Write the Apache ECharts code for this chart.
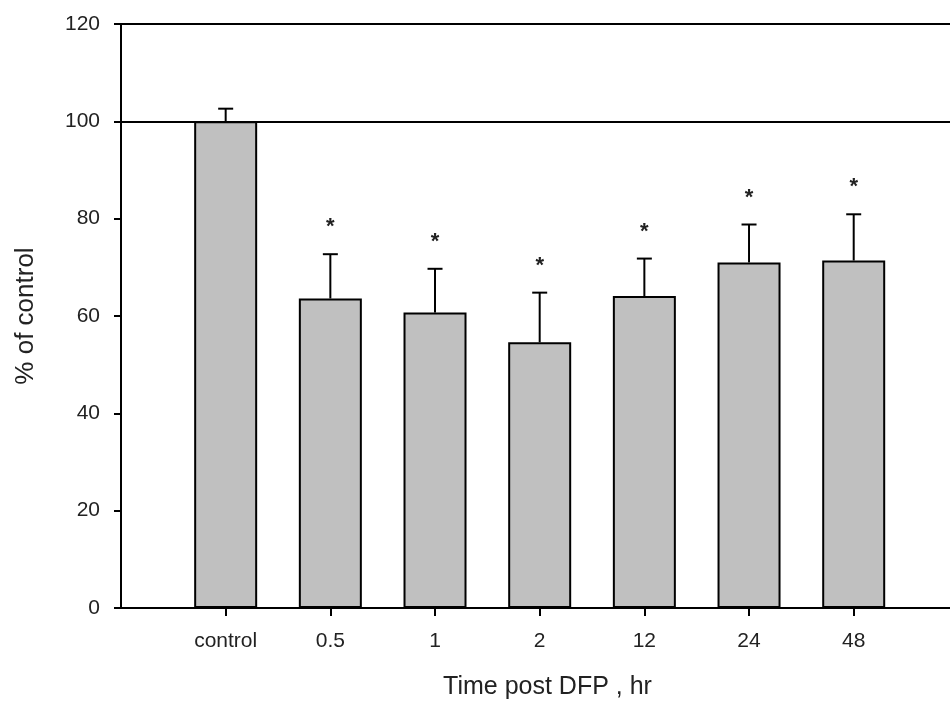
<!DOCTYPE html>
<html>
<head>
<meta charset="utf-8">
<script src="https://cdn.jsdelivr.net/npm/echarts@6/dist/echarts.min.js"></script>
<style>
  html, body { margin: 0; padding: 0; background: #fff; }
  #chart { width: 950px; height: 706px; }
</style>
</head>
<body>
<div id="chart"></div>
<script>
// Time points after DFP exposure (hours), with the untreated group first
const categories = ['control', '0.5', '1', '2', '12', '24', '48'];
// Mean response, % of control
const means = [100, 63.6, 60.7, 54.6, 64.1, 71.0, 71.4];
// Standard error of the mean (upper error bar only)
const sem = [2.6, 9.1, 9.0, 10.2, 7.7, 7.8, 9.5];
// Groups significantly different from control
const significant = [false, true, true, true, true, true, true];
// Value axis ticks
const yTicks = [0, 20, 40, 60, 80, 100, 120];
const referenceLevel = 100;

const FONT = '"Liberation Sans", Arial, sans-serif';
const TEXT = '#222';

// Groups sit at 1..7; the plot runs past the last group and is cut by the page edge
const positions = categories.map((c, i) => i + 1);
const xMax = 7.92;
const barData = positions.map((x, i) => [x, means[i]]);
const errData = positions.map((x, i) => [x, means[i], means[i] + sem[i], significant[i] ? 1 : 0]);

const chart = echarts.init(document.getElementById('chart'), null, { renderer: 'canvas' });

chart.setOption({
  animation: false,
  backgroundColor: '#fff',
  grid: { left: 121, top: 24, right: 0, height: 584, containLabel: false },
  xAxis: [
    {
      type: 'value',
      min: 0,
      max: xMax,
      position: 'bottom',
      name: 'Time post DFP , hr',
      nameLocation: 'middle',
      nameGap: 67,
      nameTextStyle: { fontFamily: FONT, fontSize: 25, color: TEXT, padding: [0, 0, 0, 24] },
      axisLine: { show: true, lineStyle: { color: '#000', width: 2 } },
      axisTick: { show: true, length: 8, inside: false, customValues: positions,
                  lineStyle: { color: '#000', width: 2 } },
      axisLabel: {
        show: true, customValues: positions, margin: 23,
        fontFamily: FONT, fontSize: 21, color: TEXT,
        formatter: v => categories[Math.round(v) - 1] || ''
      },
      splitLine: { show: false }
    },
    {
      type: 'value',
      min: 0,
      max: xMax,
      position: 'top',
      axisLine: { show: true, onZero: false, lineStyle: { color: '#000', width: 2 } },
      axisTick: { show: false },
      axisLabel: { show: false },
      splitLine: { show: false }
    }
  ],
  yAxis: {
    type: 'value',
    min: yTicks[0],
    max: yTicks[yTicks.length - 1],
    interval: yTicks[1] - yTicks[0],
    name: '% of control',
    nameLocation: 'middle',
    nameRotate: 90,
    nameGap: 82,
    nameTextStyle: { fontFamily: FONT, fontSize: 26, color: TEXT },
    axisLine: { show: true, lineStyle: { color: '#000', width: 2 } },
    axisTick: { show: true, length: 7, lineStyle: { color: '#000', width: 2 } },
    axisLabel: { margin: 21, fontFamily: FONT, fontSize: 21, color: TEXT },
    splitLine: { show: false }
  },
  series: [
    {
      type: 'bar',
      data: barData,
      barWidth: 63,
      itemStyle: { color: '#c0c0c0', borderColor: '#000', borderWidth: 2 },
      markLine: {
        silent: true,
        symbol: 'none',
        label: { show: false },
        lineStyle: { color: '#000', width: 2, type: 'solid' },
        data: [{ yAxis: referenceLevel }]
      },
      z: 2
    },
    {
      type: 'custom',
      data: errData,
      z: 3,
      renderItem: function (params, api) {
        const x = api.value(0);
        const base = api.coord([x, api.value(1)]);
        const cap = api.coord([x, api.value(2)]);
        const half = 7.5;
        const style = { stroke: '#000', lineWidth: 2 };
        const children = [
          { type: 'line', shape: { x1: base[0], y1: base[1], x2: cap[0], y2: cap[1] }, style },
          { type: 'line', shape: { x1: cap[0] - half, y1: cap[1], x2: cap[0] + half, y2: cap[1] }, style }
        ];
        if (api.value(3)) {
          children.push({
            type: 'text',
            style: {
              text: '*', x: cap[0], y: cap[1] - 27,
              align: 'center', verticalAlign: 'middle',
              fontFamily: FONT, fontSize: 22, fontWeight: 'bold', fill: '#222'
            }
          });
        }
        return { type: 'group', children };
      }
    }
  ]
});
</script>
</body>
</html>
